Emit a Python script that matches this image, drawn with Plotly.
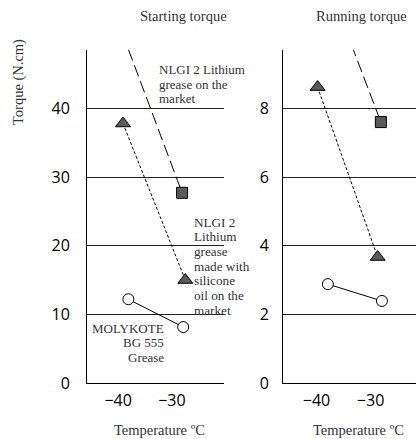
import plotly.graph_objects as go

W, H = 416, 439

# Starting torque (left panel)
start_li_x = [-38.1, -28.1]
start_li_y = [48.6, 27.7]
start_si_x = [-39.1, -27.5]
start_si_y = [37.8, 15.0]
start_mk_x = [-38.1, -27.9]
start_mk_y = [12.2, 8.15]

# Running torque (right panel)
run_li_x = [-38.0, -28.1]
run_li_y = [11.7, 7.6]
run_si_x = [-39.8, -28.7]
run_si_y = [8.62, 3.67]
run_mk_x = [-37.9, -27.9]
run_mk_y = [2.88, 2.39]

left_ticks = [0, 10, 20, 30, 40]
right_ticks = [0, 2, 4, 6, 8]
x_ticks = [-40, -30]

MK = "#5a5a5a"

def px(x):
    return x / W

def py(y):
    return 1 - y / H

fig = go.Figure()

def add_panel(xa, ya, lx, ly, sx, sy, mx, my):
    fig.add_trace(go.Scatter(x=lx, y=ly, xaxis=xa, yaxis=ya, mode="lines",
                             line=dict(color="black", width=1, dash="12px,5px"),
                             showlegend=False, hoverinfo="skip"))
    fig.add_trace(go.Scatter(x=lx[1:], y=ly[1:], xaxis=xa, yaxis=ya, mode="markers",
                             marker=dict(symbol="square", size=11, color=MK,
                                         line=dict(color="black", width=1)),
                             showlegend=False, cliponaxis=False))
    fig.add_trace(go.Scatter(x=sx, y=sy, xaxis=xa, yaxis=ya, mode="lines",
                             line=dict(color="black", width=1, dash="3px,2px"),
                             showlegend=False, hoverinfo="skip"))
    fig.add_trace(go.Scatter(x=sx, y=sy, xaxis=xa, yaxis=ya, mode="markers",
                             marker=dict(symbol="triangle-up", size=13, color=MK,
                                         line=dict(color="black", width=1)),
                             showlegend=False, cliponaxis=False))
    fig.add_trace(go.Scatter(x=mx, y=my, xaxis=xa, yaxis=ya, mode="lines+markers",
                             line=dict(color="black", width=1),
                             marker=dict(symbol="circle", size=11, color="white",
                                         line=dict(color="black", width=1)),
                             showlegend=False, cliponaxis=False))

add_panel("x", "y", start_li_x, start_li_y, start_si_x, start_si_y, start_mk_x, start_mk_y)
add_panel("x2", "y2", run_li_x, run_li_y, run_si_x, run_si_y, run_mk_x, run_mk_y)

ydom = [py(383), py(50)]
tickfont = dict(family="Open Sans", size=16, color="black")
axis_common = dict(showline=True, linecolor="black", linewidth=1, ticks="",
                   zeroline=False, tickfont=tickfont, automargin=False)

fig.update_layout(
    width=W, height=H, autosize=False,
    margin=dict(l=0, r=0, t=0, b=0, pad=0),
    paper_bgcolor="white", plot_bgcolor="white",
    xaxis=dict(domain=[px(87), px(224)], range=[-45.8, -20.3], tickvals=x_ticks,
               showgrid=False, anchor="y", ticklabelstandoff=3, **axis_common),
    yaxis=dict(domain=ydom, range=[0, 48.5], tickvals=left_ticks, showgrid=True,
               gridcolor="#222", gridwidth=1, anchor="x", ticklabelstandoff=13,
               **axis_common),
    xaxis2=dict(domain=[px(283), 1.0], range=[-46.2, -21.6], tickvals=x_ticks,
                showgrid=False, anchor="y2", ticklabelstandoff=3, **axis_common),
    yaxis2=dict(domain=ydom, range=[0, 9.7], tickvals=right_ticks, showgrid=True,
                gridcolor="#222", gridwidth=1, anchor="x2", ticklabelstandoff=10,
                **axis_common),
)

def note(text, x, y, xanchor="center", angle=0, size=13.0):
    fig.add_annotation(text=text, x=px(x), y=py(y), xref="paper", yref="paper",
                       xanchor=xanchor, yanchor="middle", showarrow=False,
                       font=dict(family="Liberation Serif", size=size, color="#333"),
                       textangle=angle, borderpad=0)

note("Starting torque", 183, 16, size=14.5)
note("Running torque", 361, 16, size=14.5)
note("Temperature ºC", 159, 430, size=14.5)
note("Temperature ºC", 358, 430, size=14.5)
note("Torque (N.cm)", 18, 82, angle=-90, size=14.5)

for i, t in enumerate(["NLGI 2 Lithium", "grease on the", "market"]):
    note(t, 158, 69.5 + 14.5 * i, xanchor="left")

for i, t in enumerate(["NLGI 2", "Lithium", "grease", "made with", "silicone",
                       "oil on the", "market"]):
    note(t, 193, 222 + 14.7 * i, xanchor="left", size=13.2)

for i, t in enumerate(["MOLYKOTE", "BG 555", "Grease"]):
    note(t, 165, 328 + 14.5 * i, xanchor="right")

fig.write_html(
    "out.html",
    config={"displayModeBar": False, "staticPlot": True},
    post_script="document.body.style.margin='0';document.body.style.overflow='hidden';window.scrollTo(0,0);",
)
